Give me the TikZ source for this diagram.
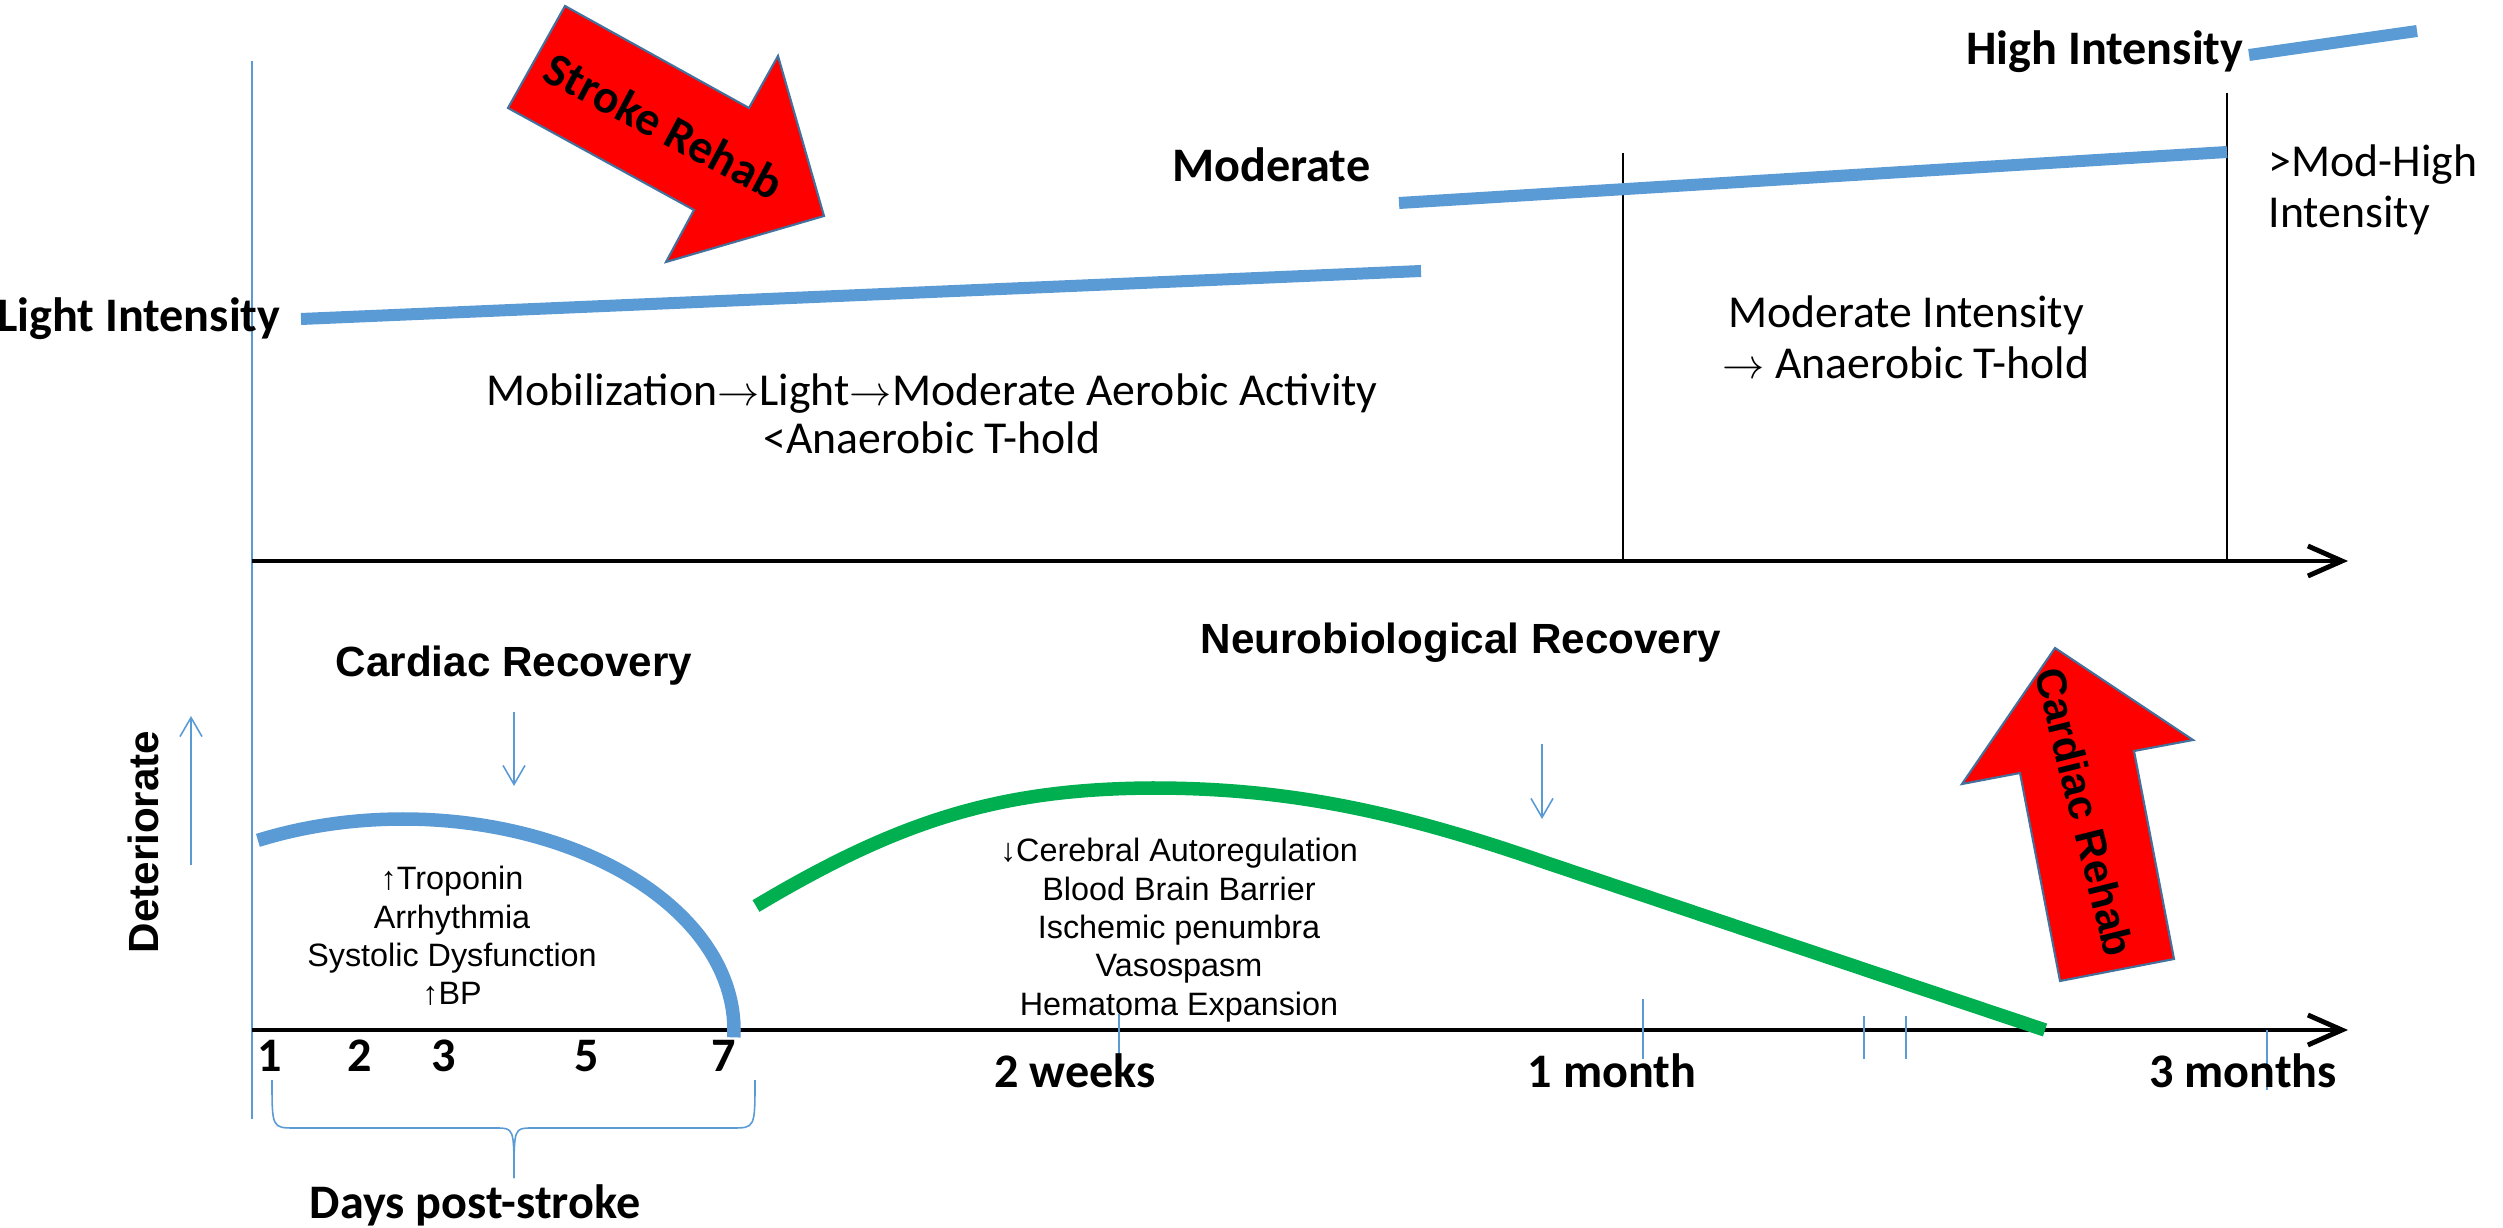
\documentclass[tikz,border=0pt]{standalone}
\usepackage{fontspec}
\setmainfont{Carlito}
\newfontfamily\arialfont{Liberation Sans}
\usetikzlibrary{arrows.meta}
\definecolor{fasesazul}{HTML}{5B9BD5}
\definecolor{fasesverde}{HTML}{00B050}
\definecolor{bordaseta}{HTML}{41719C}
\newcommand{\setadir}{$\rightarrow$}
\newcommand{\setacima}{{\arialfont ↑}}
\newcommand{\setabaixo}{{\arialfont ↓}}
\tikzset{
  eixo/.style={black, line width=1.4pt, -{Straight Barb[length=3.4mm, width=3mm, line width=1.4pt]}},
  intensidade/.style={fasesazul, line width=1.2mm},
  curva/.style={line width=1.35mm},
  fino/.style={fasesazul, line width=0.45pt},
  divisa/.style={black, line width=0.45pt},
  setinha/.style={fino, -{Straight Barb[length=1.9mm, width=2.2mm, line width=0.45pt]}},
  reab/.style={fill=red, draw=bordaseta, line width=0.6pt},
  rotulo/.style={font=\bfseries\fontsize{13.7}{16}\selectfont, inner sep=0pt},
  nota/.style={font=\fontsize{13}{14.5}\selectfont, inner sep=0pt},
  titulo/.style={font=\arialfont\bfseries\fontsize{12}{14}\selectfont, inner sep=0pt},
  fatores/.style={font=\arialfont\fontsize{9.2}{10.9}\selectfont, align=center, inner sep=0pt},
}

\begin{document}
\begin{tikzpicture}[x=0.01cm, y=-0.01cm]
  \useasboundingbox (0,0) rectangle (2503,1228);

  % ---------------- eixos ----------------
  \coordinate (O1) at (252,561);
  \coordinate (O2) at (252,1030);
  \draw[fino] (252,61) -- (252,1119);
  \draw[eixo] (O1) -- (2348,561);
  \draw[eixo] (O2) -- (2348,1030);
  \draw[divisa] (1623,153) -- (1623,561);
  \draw[divisa] (2227,93) -- (2227,561);

  % ---------------- intensidade do exercicio ----------------
  \draw[intensidade] (301,319) -- (1421,271);
  \draw[intensidade] (1399,203) -- (2227,152);
  \draw[intensidade] (2249,55) -- (2417,31);
  \node[rotulo, anchor=base east] (leve) at (281,332) {Light Intensity};
  \node[rotulo, anchor=base east] (moderada) at (1371,182) {Moderate};
  \node[rotulo, anchor=base east] (alta) at (2244,65) {High Intensity};
  \node[nota, align=center] (mobil) at (932,414)
    {Mobilization\setadir Light\setadir Moderate Aerobic Activity\\[-1pt]<Anaerobic T-hold};
  \node[nota, align=center] (modint) at (1906,337)
    {Moderate Intensity\\\setadir{} Anaerobic T-hold};
  \node[nota, align=left, anchor=west] (modalta) at (2268,190)
    {>Mod-High\\Intensity};

  % seta de reabilitacao do AVC
  \filldraw[reab] (565,6) -- (749,108) -- (778,56) -- (824,216) -- (666,262) -- (694,210) -- (508,108) -- cycle;
  \node[font=\bfseries\fontsize{13.5}{16}\selectfont, inner sep=0pt, rotate=-28] (avc) at (664,126) {Stroke Rehab};

  % ---------------- recuperacao ----------------
  \node[titulo, anchor=base] (cardrec) at (514,676) {Cardiac Recovery};
  \node[titulo, anchor=base] (neurorec) at (1461,654) {Neurobiological Recovery};
  \node[titulo, rotate=90] (piora) at (143,842) {Deteriorate};
  \draw[setinha] (191,865) -- (191,716);
  \draw[setinha] (514,712) -- (514,786);
  \draw[setinha] (1542,744) -- (1542,819);

  % curva cardiaca e curva neurobiologica
  \draw[curva, fasesazul] plot[domain=116:-2, samples=60] ({403+331*cos(\x)}, {1030-211*sin(\x)});
  \draw[curva, fasesverde] (756,906) .. controls (900,820) and (1000,789) .. (1152,788)
    .. controls (1290,788) and (1400,812) .. (1547,863) -- (2045,1030);
  \node[fatores] (cardfat) at (452,936)
    {\setacima Troponin\\Arrhythmia\\Systolic Dysfunction\\\setacima BP};
  \node[fatores] (neurofat) at (1179,930)
    {\setabaixo Cerebral Autoregulation\\Blood Brain Barrier\\Ischemic penumbra\\Vasospasm\\Hematoma Expansion};

  % seta de reabilitacao cardiaca
  \filldraw[reab] (2055,648) -- (2193,740) -- (2134,751) -- (2174,959) -- (2060,981) -- (2020,773) -- (1962,784) -- cycle;
  \node[titulo, rotate=-76] (cardreab) at (2085,812) {Cardiac Rehab};

  % ---------------- escala de tempo ----------------
  \foreach \d/\x in {1/270, 2/360, 3/444, 5/587, 7/724}
    \node[rotulo, anchor=base] (dia\d) at (\x,1071) {\d};
  \foreach \x/\a/\b in {1119/1014/1055, 1643/999/1059, 1864/1016/1059, 1906/1016/1059, 2267/1030/1090}
    \draw[fino] (\x,\a) -- (\x,\b);
  \node[rotulo, anchor=base] (semanas) at (1075,1087) {2 weeks};
  \node[rotulo, anchor=base] (mes) at (1612,1087) {1 month};
  \node[rotulo, anchor=base] (meses) at (2243,1087) {3 months};
  % chave dos dias
  \draw[fino] (272,1080) .. controls (272,1128) and (272,1128) .. (295,1128) -- (496,1128)
    .. controls (514,1128) and (514,1128) .. (514,1178);
  \draw[fino] (755,1080) .. controls (755,1128) and (755,1128) .. (732,1128) -- (532,1128)
    .. controls (514,1128) and (514,1128) .. (514,1178);
  \node[rotulo, anchor=base] (dias) at (475,1218) {Days post-stroke};
\end{tikzpicture}
\end{document}
